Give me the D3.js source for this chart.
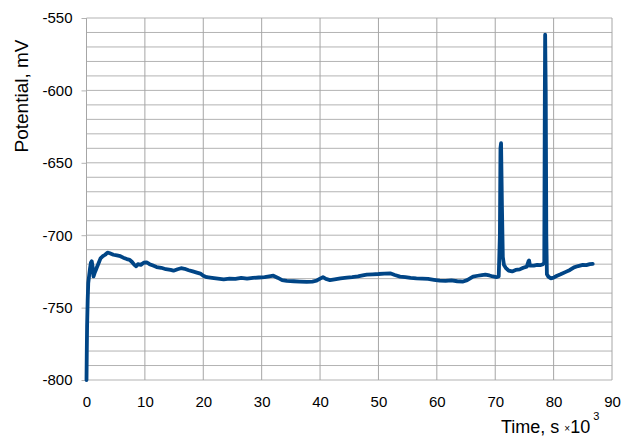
<!DOCTYPE html>
<html lang="en">
  <head>
    <meta charset="utf-8">
    <title>Potential vs time</title>
    <script src="https://d3js.org/d3.v7.js"></script>
    <style>
      body { margin: 0; background: white; }
      text { font-family: "Liberation Sans", Arial, sans-serif; fill: #000; }
    </style>
  </head>

  <body>
    <script>

      // time, s x 10^3
      const time = [0.0, 0.05, 0.1, 0.2, 0.3, 0.45, 0.6, 0.75, 0.9, 1.05, 1.2, 1.4, 1.6, 1.8, 2.1, 2.4, 2.8, 3.2, 3.6, 4.0,
                    4.6, 5.2, 5.8, 6.3, 6.9, 7.4, 7.8, 8.2, 8.5, 8.8, 9.3, 9.8, 10.3, 10.8, 11.4, 12.0, 12.8, 13.6, 14.4, 14.9,
                    15.6, 16.2, 16.8, 17.5, 18.2, 18.9, 19.5, 20.0, 20.6, 21.5, 22.5, 23.5, 24.5, 25.5, 26.5, 27.5, 28.5, 29.5, 30.5, 31.3,
                    32.0, 32.8, 33.5, 34.3, 35.5, 36.5, 37.7, 38.7, 39.4, 40.0, 40.5, 41.0, 41.7, 42.5, 43.5, 44.6, 45.5, 46.5, 47.3, 48.0,
                    49.0, 50.0, 51.0, 52.0, 52.8, 53.7, 54.6, 55.5, 56.5, 57.5, 58.5, 59.5, 60.5, 61.5, 62.5, 63.5, 64.5, 65.2, 66.2, 67.0,
                    67.7, 68.3, 69.0, 69.6, 70.2, 70.6, 70.8, 70.9, 71.0, 71.15, 71.3, 71.5, 71.8, 72.3, 72.9, 73.5, 74.2, 74.8, 75.4, 75.7,
                    75.8, 75.95, 76.6, 77.2, 77.8, 78.2, 78.4, 78.5, 78.55, 78.65, 78.75, 78.85, 79.1, 79.5, 80.0, 80.5, 81.2, 82.0, 82.8, 83.5,
                    84.2, 85.0, 85.6, 86.2, 86.7];

      // potential, mV
      const potential = [-800, -780, -763, -745, -733, -728, -723, -719, -718, -722, -728.5, -726, -724, -722, -719, -716, -714.5, -713.5, -712, -712.5,
                         -713.5, -714, -714.5, -715.5, -716.5, -717, -718.5, -720.5, -721.5, -720, -720.5, -719, -718.7, -720, -721, -722, -722.5, -723.5, -724, -724.5,
                         -723.5, -722.8, -723.2, -724.2, -725, -725.8, -726.5, -728, -729, -729.5, -730, -730.5, -730, -730.2, -729.5, -730, -729.5, -729.2, -729, -728.5,
                         -728, -729.5, -731, -731.6, -731.8, -732, -732.3, -732, -731.4, -730, -729, -730.2, -731, -730.5, -729.8, -729.3, -729, -728.5, -727.8, -727.3,
                         -727, -726.8, -726.5, -726.3, -727.5, -728.6, -729, -729.5, -729.8, -730, -730.2, -730.8, -731.4, -731.6, -731.2, -731.8, -732, -731, -728.6, -728,
                         -727.5, -727.2, -727.8, -728.5, -729, -728.5, -700, -640, -636.5, -680, -715, -720.6, -722.5, -724.5, -725, -724, -723.6, -722.5, -721.7, -718,
                         -717.5, -721, -721, -720.5, -720.6, -720, -719, -600, -561.5, -600, -700, -727, -728.6, -729.8, -729.3, -728.2, -727, -725.5, -724, -722.2,
                         -721.3, -720.5, -720.7, -720, -719.8];

      const xTicks = [0, 10, 20, 30, 40, 50, 60, 70, 80, 90];
      const yTicks = [-800, -750, -700, -650, -600, -550];

      const w = 633;
      const h = 437;
      const margin = {top: 18, right: 21, bottom: 57, left: 86.5};

      const data = time.map((t, i) => ({t: t, v: potential[i]}));

      const xScale = d3.scaleLinear()
                       .domain([0, 90])
                       .range([margin.left, w - margin.right]);

      const yScale = d3.scaleLinear()
                       .domain([-800, -550])
                       .range([h - margin.bottom, margin.top]);

      const svg = d3.select("body")
                    .append("svg")
                    .attr("width", w)
                    .attr("height", h);

      // horizontal grid every 10 mV
      svg.append("g")
         .selectAll("line")
         .data(d3.range(-800, -549, 10))
         .enter().append("line")
         .attr("x1", xScale(0))
         .attr("x2", xScale(90))
         .attr("y1", d => yScale(d))
         .attr("y2", d => yScale(d))
         .attr("stroke", "#b3b3b3")
         .attr("stroke-width", 1);

      // vertical grid
      svg.append("g")
         .selectAll("line")
         .data(xTicks)
         .enter().append("line")
         .attr("x1", d => xScale(d))
         .attr("x2", d => xScale(d))
         .attr("y1", yScale(-550))
         .attr("y2", yScale(-800))
         .attr("stroke", "#a6a6a6")
         .attr("stroke-width", 1);

      // y axis (outer ticks + labels), plain hyphen minus like the original
      const yAxis = d3.axisLeft(yScale)
                      .tickValues(yTicks)
                      .tickFormat(d => String(d))
                      .tickSize(5)
                      .tickPadding(9);

      svg.append("g")
         .attr("class", "yAxis")
         .attr("transform", `translate(${margin.left}, 0)`)
         .call(yAxis)
         .call(g => g.select(".domain").remove())
         .call(g => g.selectAll("line").attr("stroke", "#b3b3b3"))
         .call(g => g.selectAll("text").style("font-size", "15px").attr("font-family", null));

      // x axis labels
      const xAxis = d3.axisBottom(xScale)
                      .tickValues(xTicks)
                      .tickFormat(d => String(d))
                      .tickSize(0)
                      .tickPadding(16);

      svg.append("g")
         .attr("class", "xAxis")
         .attr("transform", `translate(0, ${h - margin.bottom})`)
         .call(xAxis)
         .call(g => g.select(".domain").remove())
         .call(g => g.selectAll("text").style("font-size", "15px").attr("font-family", null));

      // data line
      const line = d3.line()
                     .x(d => xScale(d.t))
                     .y(d => yScale(d.v));

      svg.append("path")
         .datum(data)
         .attr("d", line)
         .attr("fill", "none")
         .attr("stroke", "#004586")
         .attr("stroke-width", 3.8)
         .attr("stroke-linejoin", "round")
         .attr("stroke-linecap", "round");

      // axis titles
      svg.append("text")
         .attr("transform", "translate(28, 96) rotate(-90)")
         .attr("text-anchor", "middle")
         .style("font-size", "19px")
         .text("Potential, mV");

      const xt = svg.append("text")
                    .attr("x", 501)
                    .attr("y", 433)
                    .style("font-size", "18px");
      xt.append("tspan").text("Time, s ");
      xt.append("tspan").style("font-size", "10px").attr("dy", -1).text("×");
      xt.append("tspan").attr("dy", 1).text("10");
      xt.append("tspan").style("font-size", "11px").attr("dx", 3).attr("dy", -13).text("3");

    </script>
  </body>
</html>
